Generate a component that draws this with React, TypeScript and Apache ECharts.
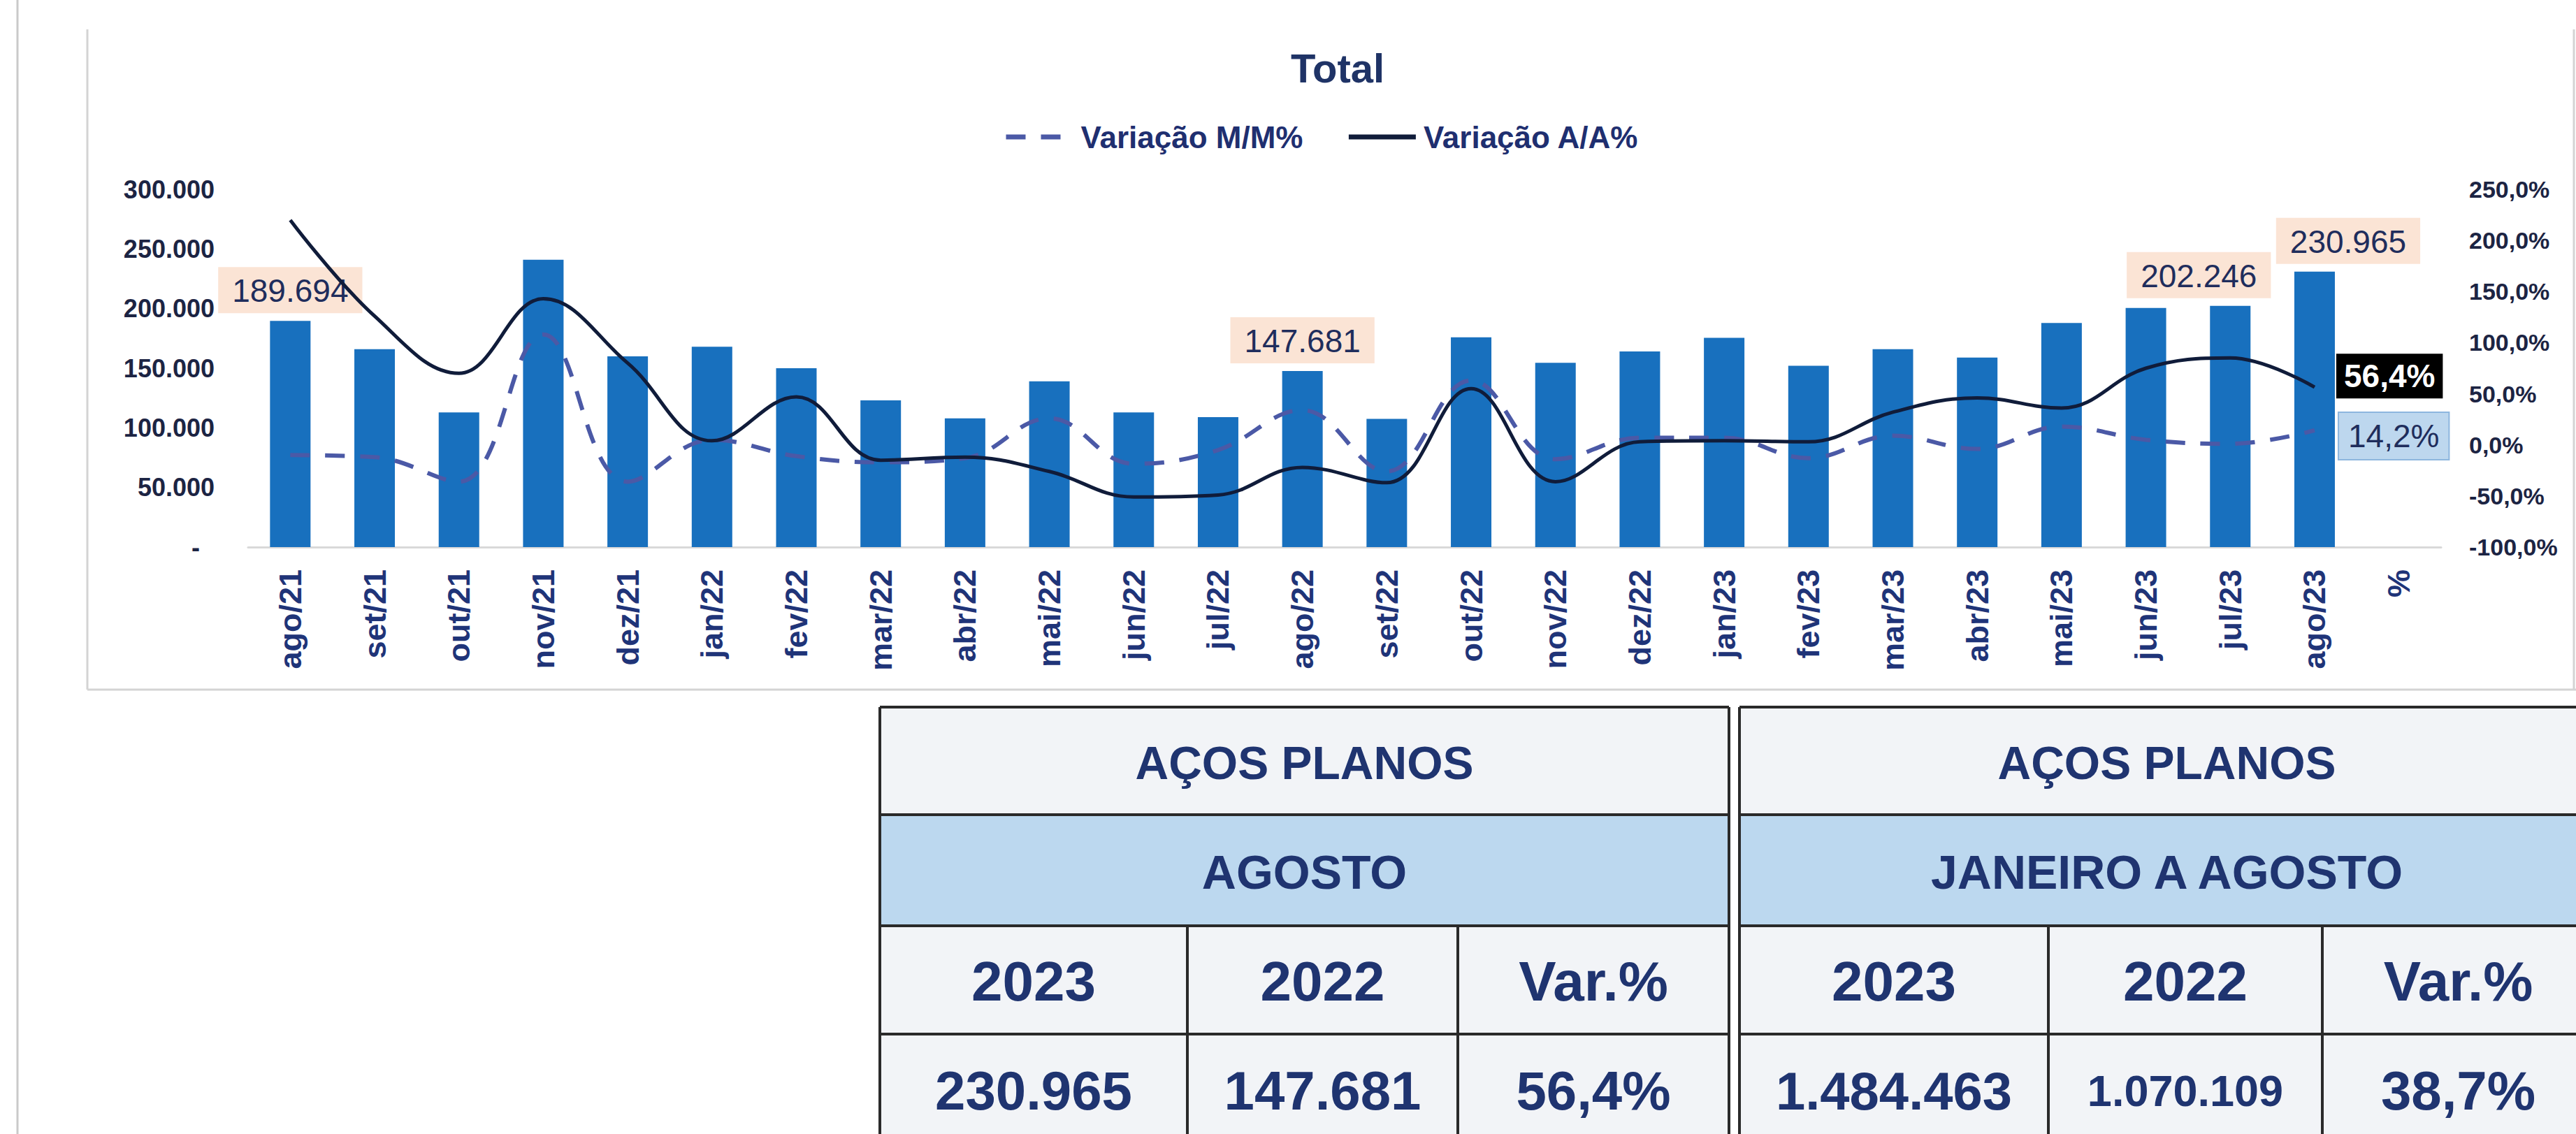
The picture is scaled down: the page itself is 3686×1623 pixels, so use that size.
import React, { useEffect, useRef } from 'react';
import * as echarts from 'echarts';

// ---------- data ----------
const categories = [
  'ago/21', 'set/21', 'out/21', 'nov/21', 'dez/21', 'jan/22', 'fev/22', 'mar/22', 'abr/22',
  'mai/22', 'jun/22', 'jul/22', 'ago/22', 'set/22', 'out/22', 'nov/22', 'dez/22', 'jan/23',
  'fev/23', 'mar/23', 'abr/23', 'mai/23', 'jun/23', 'jul/23', 'ago/23', '%',
];
const volumes = [
  189694, 166000, 113000, 241000, 160000, 168000, 150000, 123000, 108000,
  139000, 113000, 109000, 147681, 107500, 176000, 154500, 164000, 175500,
  152000, 166000, 159000, 188000, 200500, 202246, 230965,
];
const varMoM = [
  -10, -12, -36, 108, -36, 5, -11, -17, -13,
  26, -18.5, -5, 34, -26, 63, -14, 7, 7,
  -13, 9, -4, 18, 5, 1, 14.2,
];
const varYoY = [
  220, 126, 70, 143, 80, 4, 47, -15, -12,
  -26, -51, -49, -22, -37, 55, -36, 3, 4,
  3, 32, 46, 36, 75, 85, 56.4,
];
// bars that carry a value label, with the horizontal shift of the label box
const labelledBars: Record<number, number> = { 0: 0, 12: 0, 23: -45, 24: 48 };

const tableTitle = 'AÇOS PLANOS';
const periodMonth = 'AGOSTO';
const periodYtd = 'JANEIRO A AGOSTO';
const tableHeaders = ['2023', '2022', 'Var.%'];
const monthValues = ['230.965', '147.681', '56,4%'];
const ytdValues = ['1.484.463', '1.070.109', '38,7%'];

// ---------- styles ----------
const FONT = 'Liberation Sans, Arial, Helvetica, sans-serif';
const NAVY = '#1F2D5C';
const AXIS_TXT = '#1C2443';
const TABLE_TXT = '#1F3470';
const BAR = '#1870BE';

const fmtThousands = (v: number) =>
  Math.round(v).toString().replace(/\B(?=(\d{3})+(?!\d))/g, '.');
const fmtPct = (v: number) => v.toFixed(1).replace('.', ',') + '%';

function buildTable(x: number[], period: string, values: string[], valueSizes: number[]) {
  const rows = [1012, 1166, 1325, 1480, 1645];
  const els: any[] = [];
  const x0 = x[0];
  const x3 = x[3];
  els.push({ type: 'rect', shape: { x: x0, y: rows[0], width: x3 - x0, height: rows[1] - rows[0] }, style: { fill: '#F2F4F7' }, z: 1 });
  els.push({ type: 'rect', shape: { x: x0, y: rows[1], width: x3 - x0, height: rows[2] - rows[1] }, style: { fill: '#BCD8EF' }, z: 1 });
  els.push({ type: 'rect', shape: { x: x0, y: rows[2], width: x3 - x0, height: rows[4] - rows[2] }, style: { fill: '#F2F4F7' }, z: 1 });
  const stroke = { stroke: '#2A2A2A', lineWidth: 4 };
  rows.forEach((ry) => {
    els.push({ type: 'line', shape: { x1: x0, y1: ry, x2: x3, y2: ry }, style: stroke, z: 2 });
  });
  els.push({ type: 'line', shape: { x1: x0, y1: rows[0], x2: x0, y2: rows[4] }, style: stroke, z: 2 });
  els.push({ type: 'line', shape: { x1: x3, y1: rows[0], x2: x3, y2: rows[4] }, style: stroke, z: 2 });
  els.push({ type: 'line', shape: { x1: x[1], y1: rows[2], x2: x[1], y2: rows[4] }, style: stroke, z: 2 });
  els.push({ type: 'line', shape: { x1: x[2], y1: rows[2], x2: x[2], y2: rows[4] }, style: stroke, z: 2 });
  const cx = (x0 + x3) / 2;
  const txt = (text: string, tx: number, ty: number, size: number) => ({
    type: 'text', x: tx, y: ty, z: 3,
    style: { text, fill: TABLE_TXT, fontSize: size, fontWeight: 'bold', fontFamily: FONT, align: 'center', verticalAlign: 'middle' },
  });
  els.push(txt(tableTitle, cx, 1092, 66));
  els.push(txt(period, cx, 1248, 68));
  for (let i = 0; i < 3; i++) {
    const c = (x[i] + x[i + 1]) / 2;
    els.push(txt(tableHeaders[i], c, 1404, 80));
    els.push(txt(values[i], c, 1561, valueSizes[i]));
  }
  return els;
}

export default function App() {
  const ref = useRef<HTMLDivElement>(null);

  useEffect(() => {
    if (!ref.current) return;
    const chart = echarts.init(ref.current, undefined, { renderer: 'svg' });

    const barData = volumes.map((v, i) => {
      if (labelledBars[i] === undefined) return v;
      return {
        value: v,
        label: {
          show: true,
          position: 'top',
          distance: 11,
          formatter: (p: any) => fmtThousands(p.value),
          fontSize: 46,
          fontFamily: FONT,
          color: NAVY,
          backgroundColor: '#FBE4D5',
          padding: [9, 20, 7, 20],
          lineHeight: 50,
          offset: [labelledBars[i], 0],
        },
      };
    });

    const frame = { stroke: '#D4D4D4', lineWidth: 3 };
    const graphics: any[] = [
      { type: 'line', shape: { x1: 25, y1: 0, x2: 25, y2: 1623 }, style: { stroke: '#CACACA', lineWidth: 3 } },
      { type: 'line', shape: { x1: 125, y1: 42, x2: 125, y2: 987 }, style: frame },
      { type: 'line', shape: { x1: 125, y1: 987, x2: 3686, y2: 987 }, style: frame },
      { type: 'line', shape: { x1: 3683, y1: 42, x2: 3683, y2: 987 }, style: frame },
      ...buildTable([1259, 1699, 2086, 2474], periodMonth, monthValues, [78, 78, 78]),
      ...buildTable([2489, 2931, 3323, 3712], periodYtd, ytdValues, [76, 63, 78]),
    ];

    chart.setOption({
      animation: false,
      backgroundColor: '#FFFFFF',
      title: {
        text: 'Total',
        left: 1847,
        top: 68,
        padding: 0,
        textStyle: { fontSize: 58, fontWeight: 'bold', color: '#1F3366', fontFamily: FONT },
      },
      legend: {
        data: ['Variação M/M%', 'Variação A/A%'],
        left: 1436,
        top: 174,
        padding: 0,
        itemWidth: 96,
        itemHeight: 16,
        itemGap: 62,
        itemStyle: { opacity: 0 },
        lineStyle: { width: 7 },
        textStyle: { fontSize: 44, fontWeight: 'bold', color: '#1F2F70', fontFamily: FONT, padding: [0, 0, 0, 6] },
      },
      grid: { left: 355, right: 193, top: 271, bottom: 840, containLabel: false },
      xAxis: {
        type: 'category',
        data: categories,
        axisLine: { show: true, lineStyle: { color: '#D9D9D9', width: 3 } },
        axisTick: { show: false },
        axisLabel: {
          rotate: 90,
          margin: 32,
          fontSize: 45,
          fontWeight: 'bold',
          color: '#1F3478',
          fontFamily: FONT,
          interval: 0,
        },
      },
      yAxis: [
        {
          type: 'value',
          min: 0,
          max: 300000,
          interval: 50000,
          splitLine: { show: false },
          axisLine: { show: false },
          axisTick: { show: false },
          axisLabel: {
            margin: 48,
            fontSize: 36,
            fontWeight: 'bold',
            color: AXIS_TXT,
            fontFamily: FONT,
            formatter: (v: number) => (v === 0 ? '{d|-}' : fmtThousands(v)),
            rich: { d: { fontSize: 36, fontWeight: 'bold', color: AXIS_TXT, fontFamily: FONT, padding: [0, 21, 0, 0] } },
          },
        },
        {
          type: 'value',
          position: 'right',
          min: -100,
          max: 250,
          interval: 50,
          splitLine: { show: false },
          axisLine: { show: false },
          axisTick: { show: false },
          axisLabel: {
            margin: 40,
            fontSize: 34,
            fontWeight: 'bold',
            color: AXIS_TXT,
            fontFamily: FONT,
            formatter: (v: number) => fmtPct(v),
          },
        },
      ],
      series: [
        {
          name: 'Volume',
          type: 'bar',
          yAxisIndex: 0,
          data: barData,
          barWidth: 58,
          itemStyle: { color: BAR },
          z: 2,
        },
        {
          name: 'Variação M/M%',
          type: 'line',
          yAxisIndex: 1,
          data: varMoM,
          smooth: 0.4,
          symbol: 'none',
          color: '#4B59A6',
          lineStyle: { color: '#4B59A6', width: 6, type: [28, 22] },
          itemStyle: { color: '#4B59A6' },
          z: 3,
          endLabel: {
            show: true,
            distance: 35,
            offset: [0, 8],
            formatter: (p: any) => fmtPct(p.value),
            fontSize: 46,
            fontFamily: FONT,
            color: NAVY,
            backgroundColor: '#BDD7EE',
            borderColor: '#8DB6DE',
            borderWidth: 2,
            padding: [9, 13, 7, 13],
            lineHeight: 50,
          },
        },
        {
          name: 'Variação A/A%',
          type: 'line',
          yAxisIndex: 1,
          data: varYoY,
          smooth: 0.4,
          symbol: 'none',
          color: '#101C3A',
          lineStyle: { color: '#101C3A', width: 5 },
          itemStyle: { color: '#101C3A' },
          z: 4,
          endLabel: {
            show: true,
            distance: 31,
            offset: [0, -16],
            formatter: (p: any) => fmtPct(p.value),
            fontSize: 46,
            fontWeight: 'bold',
            fontFamily: FONT,
            color: '#FFFFFF',
            backgroundColor: '#000000',
            padding: [8, 11, 6, 11],
            lineHeight: 50,
          },
        },
      ],
      graphic: graphics,
    });

    return () => chart.dispose();
  }, []);

  return (
    <div
      ref={ref}
      style={{ position: 'fixed', left: 0, top: 0, width: 3686, height: 1623, background: '#FFFFFF' }}
    />
  );
}
